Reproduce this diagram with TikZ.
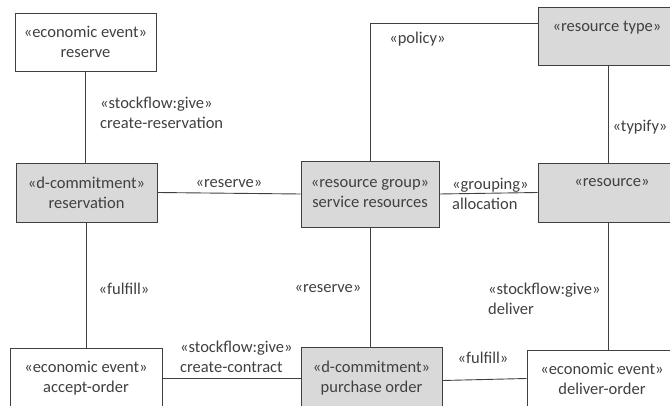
\documentclass[tikz,border=0pt]{standalone}
\usepackage{fontspec}
\setmainfont{Carlito}
\begin{document}
\begin{tikzpicture}[x=1pt,y=-1pt,
  font=\fontsize{16.5}{20}\selectfont,
  ink/.style={draw=black!75, line width=0.9pt},
  classbox/.style={ink, rectangle, align=center, inner sep=0pt, text=black!75},
  plain/.style={classbox, fill=white},
  shaded/.style={classbox, fill=black!15},
  tag/.style={text=black!75, inner sep=0pt},
  tagl/.style={tag, align=left, anchor=west}]
\useasboundingbox (0,0) rectangle (670,406);
\clip (0,0) rectangle (670,406);

% classes
\node[plain,  minimum width=141pt, minimum height=58pt] (evreserve) at (85.5,42)
  {«economic event»\\reserve};
\node[shaded, minimum width=141pt, minimum height=59pt] (reservation) at (86.5,192.5)
  {«d-commitment»\\reservation};
\node[shaded, minimum width=138pt, minimum height=66pt] (group) at (370,194)
  {«resource group»\\service resources};
\node[shaded, minimum width=138pt, minimum height=58pt] (rtype) at (607,36)
  {«resource type»\\\phantom{r}};
\node[shaded, minimum width=148pt, minimum height=59pt] (resource) at (612,192.5)
  {«resource»\\\phantom{r}};
\node[plain,  minimum width=152pt, minimum height=61pt] (accept) at (86,378.5)
  {«economic event»\\accept-order};
\node[shaded, minimum width=141pt, minimum height=63pt] (purchase) at (371.5,378.5)
  {«d-commitment»\\purchase order};
\node[plain,  minimum width=150pt, minimum height=57pt] (deliver) at (602,378.5)
  {«economic event»\\deliver-order};

% associations
\draw[ink] (evreserve.south) -- (evreserve.south |- reservation.north);
\draw[ink] (reservation.east) -- (group.west);
\draw[ink] (group.north) |- ([yshift=-17pt]rtype.north west);
\draw[ink] ([xshift=1pt]rtype.south) -- ([xshift=1pt]rtype.south |- resource.north);
\draw[ink] (group.east) -- (resource.west);
\draw[ink] (reservation.south) -- (reservation.south |- accept.north);
\draw[ink] (group.south) -- (group.south |- purchase.north);
\draw[ink] (accept.east) -- (accept.east -| purchase.west);
\draw[ink] (608,222) coordinate (resfoot) -- (resfoot |- deliver.north);
\draw[ink] ([yshift=-2pt]purchase.east) -- (deliver.west);

% association labels
\node[tagl] (lcreateres) at (100,113) {«stockflow:give»\\create-reservation};
\node[tag] (lreserve1) at (229,184) {«reserve»};
\node[tag] (lpolicy) at (417.5,39) {«policy»};
\node[tag] (ltypify) at (640,127) {«typify»};
\node[tagl] (lgrouping) at (452,194) {«grouping»\\allocation};
\node[tag] (lfulfill1) at (124,289) {«fulfill»};
\node[tag] (lreserve2) at (328,289) {«reserve»};
\node[tagl] (lcontract) at (180,356.5) {«stockflow:give»\\create-contract};
\node[tagl] (ldeliver) at (488,299) {«stockflow:give»\\deliver};
\node[tag] (lfulfill2) at (483,358) {«fulfill»};
\end{tikzpicture}
\end{document}
